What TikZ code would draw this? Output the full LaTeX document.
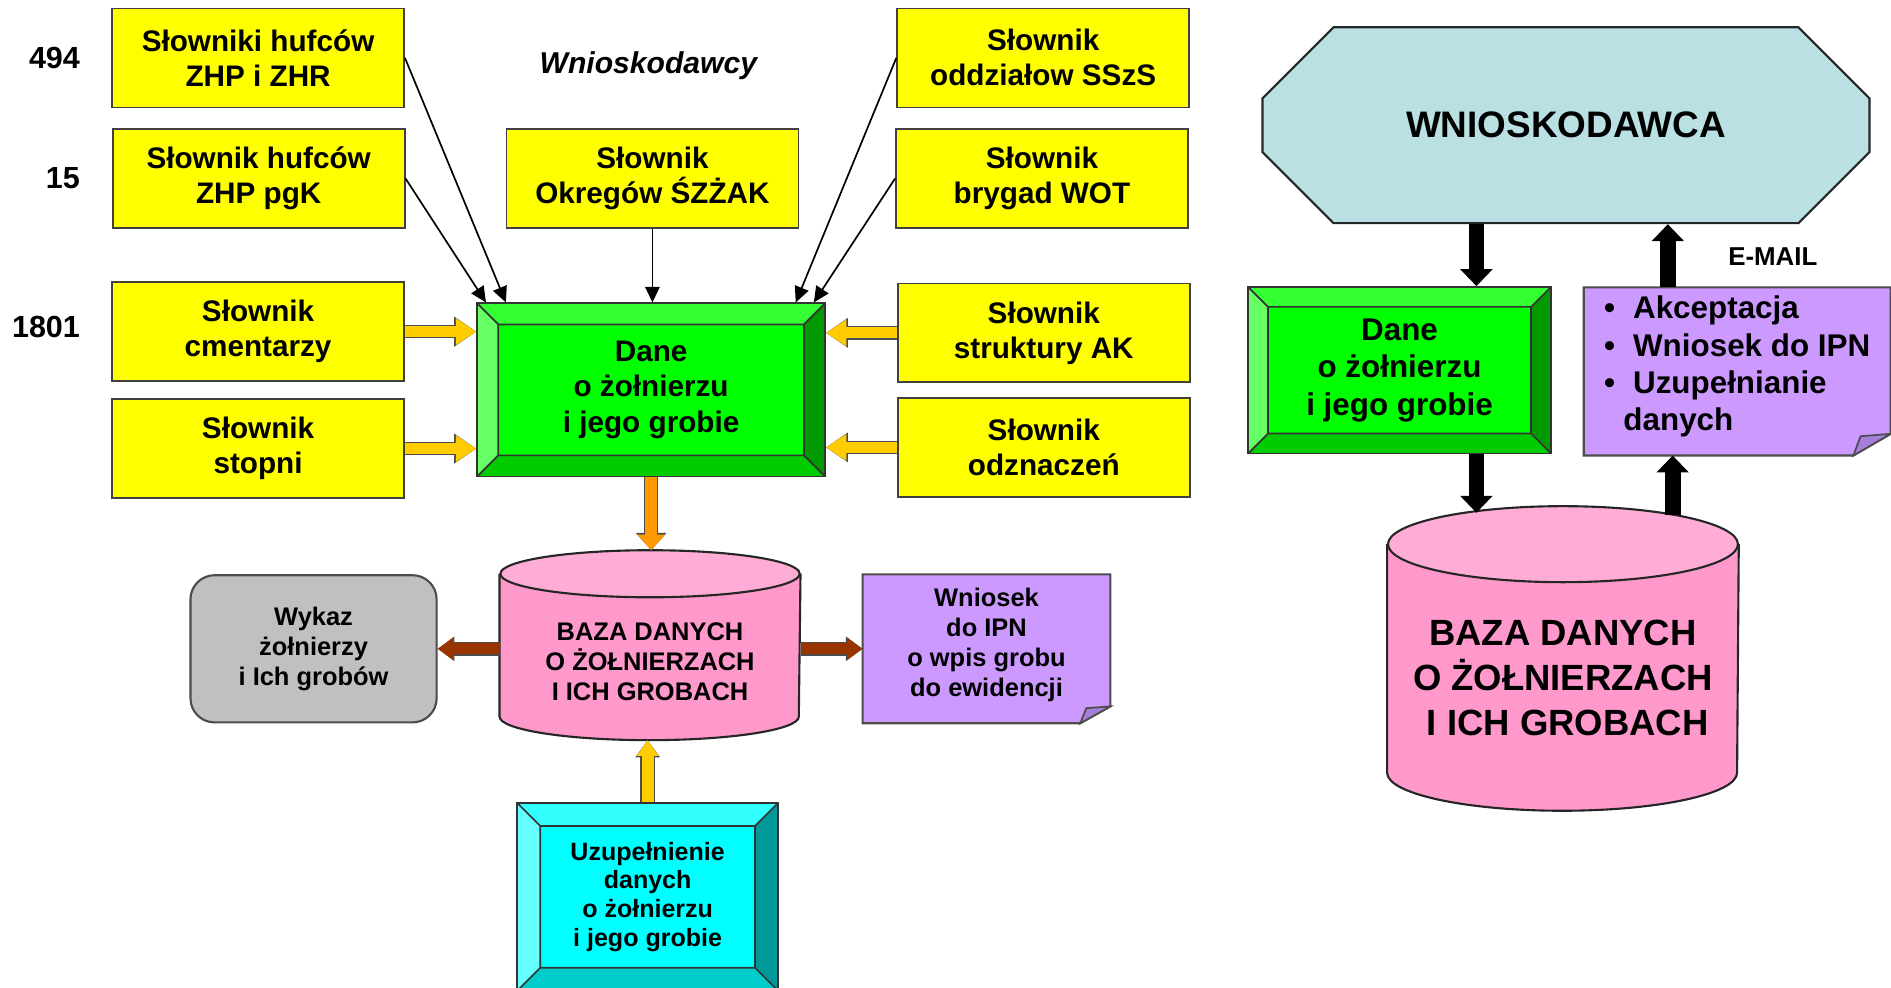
\documentclass[tikz,border=0pt]{standalone}
\usepackage{fontspec}
\setmainfont{Liberation Sans}
\usepackage{tikz}
\usetikzlibrary{arrows.meta,shapes.misc,backgrounds,positioning}

\definecolor{zolty}{HTML}{FFFF00}
\definecolor{zloty}{HTML}{FFCC00}
\definecolor{pomarancz}{HTML}{FF9900}
\definecolor{braz}{HTML}{993300}
\definecolor{zielony}{HTML}{00FF00}
\definecolor{zielonygora}{HTML}{33FF33}
\definecolor{zielonylewy}{HTML}{66FF66}
\definecolor{zielonyprawy}{HTML}{009900}
\definecolor{zielonydol}{HTML}{00CC00}
\definecolor{cyjan}{HTML}{00FFFF}
\definecolor{cyjangora}{HTML}{33FFFF}
\definecolor{cyjanlewy}{HTML}{66FFFF}
\definecolor{cyjanprawy}{HTML}{009999}
\definecolor{cyjandol}{HTML}{00CCCC}
\definecolor{roz}{HTML}{FF99CC}
\definecolor{rozjasny}{HTML}{FFADD6}
\definecolor{szary}{HTML}{C0C0C0}
\definecolor{fiolet}{HTML}{CC99FF}
\definecolor{fioletciemny}{HTML}{A57FDB}
\definecolor{blekit}{HTML}{BBE0E3}

\tikzstyle{slownik}=[rectangle,draw=black!75,fill=zolty,minimum width=2.42cm,minimum height=0.82cm,inner sep=0pt,align=center,font=\fontsize{7}{8.25}\selectfont\bfseries]
\tikzstyle{liczba}=[inner sep=0pt,font=\fontsize{7.2}{8}\selectfont\bfseries]
\tikzstyle{maly}=[inner sep=0pt,align=center,font=\fontsize{6}{7.1}\selectfont\bfseries]
\tikzstyle{wskaz}=[draw,line width=0.4pt,-{Triangle[length=0.13cm,width=0.12cm]}]
\tikzstyle{zasilanie}=[draw=zloty,line width=0.09cm,-{Triangle[length=0.17cm,width=0.21cm]},preaction={draw=black!70,line width=0.112cm,-{Triangle[length=0.183cm,width=0.235cm]}}]
\tikzstyle{odplyw}=[draw=pomarancz,line width=0.1cm,-{Triangle[length=0.13cm,width=0.22cm]},preaction={draw=black!70,line width=0.122cm,-{Triangle[length=0.143cm,width=0.245cm]}}]
\tikzstyle{doplyw}=[draw=zloty,line width=0.1cm,-{Triangle[length=0.13cm,width=0.17cm]},preaction={draw=black!70,line width=0.122cm,-{Triangle[length=0.143cm,width=0.195cm]}}]
\tikzstyle{wynik}=[draw=braz,line width=0.09cm,-{Triangle[length=0.125cm,width=0.17cm]},preaction={draw=black!70,line width=0.112cm,-{Triangle[length=0.138cm,width=0.195cm]}}]
\tikzstyle{czarna}=[draw=black,line width=0.13cm,-{Triangle[length=0.14cm,width=0.26cm]}]
\tikzstyle{cialo}=[draw=black!85,line width=0.5pt,fill=roz]
\tikzstyle{wieko}=[draw=black!85,line width=0.5pt,fill=rozjasny]
\tikzstyle{kartka}=[draw=black!70,line width=0.5pt,fill=fiolet]
\tikzstyle{zagiecie}=[draw=black!70,line width=0.4pt,fill=fioletciemny]

\tikzset{bevel/.style n args={6}{rectangle,draw=black!80,fill=#1,inner sep=0pt,align=center,
  path picture={
   \coordinate (nw) at (path picture bounding box.north west);
   \coordinate (ne) at (path picture bounding box.north east);
   \coordinate (sw) at (path picture bounding box.south west);
   \coordinate (se) at (path picture bounding box.south east);
   \fill[#2] (nw) -- (ne) -- ([shift={(-#6,-#6)}]ne) -- ([shift={(#6,-#6)}]nw) -- cycle;
   \fill[#3] (nw) -- ([shift={(#6,-#6)}]nw) -- ([shift={(#6,#6)}]sw) -- (sw) -- cycle;
   \fill[#4] (ne) -- (se) -- ([shift={(-#6,#6)}]se) -- ([shift={(-#6,-#6)}]ne) -- cycle;
   \fill[#5] (sw) -- ([shift={(#6,#6)}]sw) -- ([shift={(-#6,#6)}]se) -- (se) -- cycle;
   \draw[black!80,line width=0.4pt] ([shift={(#6,-#6)}]nw) rectangle ([shift={(-#6,#6)}]se)
     (nw) -- ++(#6,-#6) (ne) -- ++(-#6,-#6) (sw) -- ++(#6,#6) (se) -- ++(-#6,#6);
  }}}

\begin{document}
\begin{tikzpicture}[x=0.01cm,y=-0.01cm]

 \useasboundingbox (0,0) rectangle (1568,819);

 %Slowniki
 \foreach \x/\y/\name/\tekst in {214/48/L1/{Słowniki hufców\\ZHP i ZHR}, 214.5/148/L2/{Słownik hufców\\ZHP pgK},
     214/275/L3/{Słownik\\cmentarzy}, 214/372/L4/{Słownik\\stopni}, 541/148/M/{Słownik\\Okregów ŚZŻAK},
     865/48/R1/{Słownik\\oddziałow SSzS}, 864/148/R2/{Słownik\\brygad WOT},
     865.5/276/R3/{Słownik\\struktury AK}, 865.5/371/R4/{Słownik\\odznaczeń}}
   \node[slownik] (\name) at (\x,\y) {\tekst};

 \foreach \y/\ile in {56.6/494, 156/15, 280/1801}
   \node[liczba,anchor=base east] (n\ile) at (67,\y) {\ile};

 \node[inner sep=0pt,anchor=base,font=\fontsize{7.1}{8}\selectfont\bfseries\itshape] (wnioskodawcy) at (537.6,60.8) {Wnioskodawcy};

 %Dane
 \node[bevel={zielony}{zielonygora}{zielonylewy}{zielonyprawy}{zielonydol}{0.175cm},
   minimum width=2.883cm,minimum height=1.435cm,font=\fontsize{7}{8.45}\selectfont\bfseries] (dane) at (539.9,323.3) {Dane\\o żołnierzu\\i jego grobie};

 %Baza
 \node[minimum width=2.48cm,minimum height=1.56cm,inner sep=0pt] (baza) at (539,535) {};
 \draw[cialo] ([yshift=-0.195cm]baza.north west) -- ([yshift=0.195cm]baza.south west)
   arc[start angle=180,end angle=360,x radius=1.24cm,y radius=0.195cm] -- ([yshift=-0.195cm]baza.north east);
 \draw[wieko] ([yshift=-0.195cm]baza.north) ellipse[x radius=1.24cm,y radius=0.195cm];
 \node[maly] (bazatekst) at (539,548.6) {BAZA DANYCH\\O ŻOŁNIERZACH\\I ICH GROBACH};

 \node[maly,rounded corners=0.2cm,draw=black!70,line width=0.5pt,fill=szary,minimum width=2.04cm,minimum height=1.22cm] (wykaz) at (260,538) {Wykaz\\żołnierzy\\i Ich grobów};

 \node[maly,minimum width=2.04cm,minimum height=1.22cm] (wniosek) at (818,535) {Wniosek\\do IPN\\o wpis grobu\\do ewidencji};
 \begin{scope}[on background layer]
  \draw[kartka] ([yshift=-0.03cm]wniosek.north west) -- ([yshift=-0.03cm]wniosek.north east) -- ([yshift=0.11cm]wniosek.south east)
    -- ([xshift=-0.25cm,yshift=-0.03cm]wniosek.south east) -- ([yshift=-0.03cm]wniosek.south west) -- cycle;
  \draw[zagiecie] ([yshift=0.11cm]wniosek.south east) -- ([xshift=-0.25cm,yshift=-0.03cm]wniosek.south east)
    -- ([xshift=-0.2cm,yshift=0.095cm]wniosek.south east) -- cycle;
 \end{scope}

 \node[bevel={cyjan}{cyjangora}{cyjanlewy}{cyjanprawy}{cyjandol}{0.19cm},
   minimum width=2.16cm,minimum height=1.555cm,font=\fontsize{5.9}{6.8}\selectfont\bfseries] (uzup) at (537,743.7) {Uzupełnienie\\danych\\o żołnierzu\\i jego grobie};

 %Strzalki
 \draw[wskaz] (L1.east) -- ([xshift=0.245cm]dane.north west);
 \draw[wskaz] (L2.east) -- ([xshift=0.08cm]dane.north west);
 \draw[wskaz] (M.south) -- (M.south |- dane.north);
 \draw[wskaz] (R1.west) -- ([xshift=-0.25cm]dane.north east);
 \draw[wskaz] (R2.west) -- ([xshift=-0.1cm]dane.north east);

 \foreach \s in {L3,L4}
   \draw[zasilanie] (\s.east) -- (\s.east -| dane.west);
 \foreach \s in {R3,R4}
   \draw[zasilanie] (\s.west) -- (\s.west -| dane.east);

 \draw[odplyw] (dane.south) -- (dane.south |- baza.north);
 \draw[doplyw] (uzup.north) -- (uzup.north |- baza.south);
 \draw[wynik] (wykaz.east -| baza.west) -- (wykaz.east);
 \draw[wynik] ([yshift=-0.03cm]wniosek.west -| baza.east) -- ([yshift=-0.03cm]wniosek.west);

 %Wnioskodawca
 \node[chamfered rectangle,chamfered rectangle xsep=0.475cm,chamfered rectangle ysep=0.48cm,draw=black!85,line width=0.5pt,fill=blekit,
   minimum width=5.03cm,minimum height=1.623cm,inner sep=0pt,font=\fontsize{8.7}{10}\selectfont\bfseries] (wnio) at (1298.5,103.85) {WNIOSKODAWCA};

 \node[bevel={zielony}{zielonygora}{zielonylewy}{zielonyprawy}{zielonydol}{0.165cm},
   minimum width=2.51cm,minimum height=1.38cm,font=\fontsize{7.4}{8.8}\selectfont\bfseries] (dane2) at (1160.5,307) {Dane\\o żołnierzu\\i jego grobie};

 \node[inner sep=0pt,align=left,minimum width=2.53cm,minimum height=1.38cm,font=\fontsize{7.4}{8.8}\selectfont\bfseries] (uwagi) at (1440.5,304)
   {\makebox[0.24cm][l]{•}Akceptacja\\\makebox[0.24cm][l]{•}Wniosek do IPN\\\makebox[0.24cm][l]{•}Uzupełnianie\\\hspace*{0.16cm}danych};
 \begin{scope}[on background layer]
  \draw[kartka] ([yshift=-0.04cm]uwagi.north west) -- ([yshift=-0.04cm]uwagi.north east) -- ([yshift=0.14cm]uwagi.south east)
    -- ([xshift=-0.31cm,yshift=-0.04cm]uwagi.south east) -- ([yshift=-0.04cm]uwagi.south west) -- cycle;
  \draw[zagiecie] ([yshift=0.14cm]uwagi.south east) -- ([xshift=-0.31cm,yshift=-0.04cm]uwagi.south east)
    -- ([xshift=-0.25cm,yshift=0.12cm]uwagi.south east) -- cycle;
 \end{scope}

 \node[minimum width=2.9cm,minimum height=2.51cm,inner sep=0pt] (baza2) at (1296,546) {};
 \draw[cialo] ([yshift=-0.315cm]baza2.north west) -- ([yshift=0.315cm]baza2.south west)
   arc[start angle=180,end angle=360,x radius=1.45cm,y radius=0.315cm] -- ([yshift=-0.315cm]baza2.north east);
 \draw[wieko] ([yshift=-0.315cm]baza2.north) ellipse[x radius=1.45cm,y radius=0.315cm];
 \node[inner sep=0pt,align=center,font=\fontsize{8.6}{10.6}\selectfont\bfseries] (baza2tekst) at (1296,562) {BAZA DANYCH\\O ŻOŁNIERZACH\\\hspace*{0.08cm}I ICH GROBACH};

 \node[inner sep=0pt,font=\fontsize{6.1}{7}\selectfont\bfseries] (email) at (1470,213) {E-MAIL};

 \draw[czarna] ([xshift=-0.625cm]dane2.north east |- wnio.south) -- ([xshift=-0.625cm]dane2.north east);
 \draw[czarna] ([xshift=-0.625cm]dane2.south east) -- ([xshift=-0.625cm,yshift=-0.055cm]dane2.south east |- baza2.north);
 \draw[czarna] ([xshift=-0.535cm,yshift=-0.07cm]uwagi.south |- baza2.north) -- ([xshift=-0.535cm,yshift=-0.04cm]uwagi.south);
 \draw[czarna] ([xshift=-0.575cm,yshift=-0.04cm]uwagi.north) -- ([xshift=-0.575cm]uwagi.north |- wnio.south);

\end{tikzpicture}
\end{document}
